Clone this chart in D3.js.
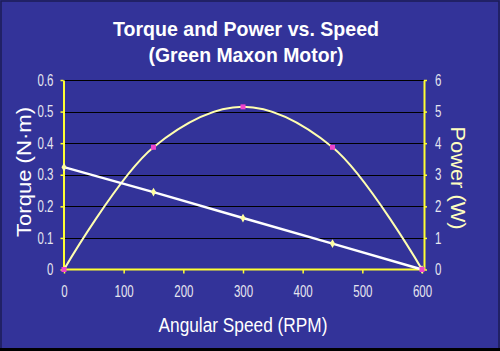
<!DOCTYPE html>
<html><head><meta charset="utf-8">
<script src="https://cdn.jsdelivr.net/npm/d3@7"></script>
<style>
html,body{margin:0;padding:0;background:#333399;}
svg{display:block;}
</style></head>
<body>
<script>
const speeds = [0, 150, 300, 450, 600];
const torque = [0.324, 0.245, 0.163, 0.082, 0];
const power = [0, 3.87, 5.15, 3.87, 0];
const xTicks = [0, 100, 200, 300, 400, 500, 600];
const torqueTicks = [0, 0.1, 0.2, 0.3, 0.4, 0.5, 0.6];
const powerTicks = [0, 1, 2, 3, 4, 5, 6];
const title1 = "Torque and Power vs. Speed";
const title2 = "(Green Maxon Motor)";

const W = 500, H = 351;
const L = 64, R = 422, T = 80, B = 269.5;
const svg = d3.select("body").append("svg").attr("width", W).attr("height", H);
svg.append("rect").attr("width", W).attr("height", H).attr("fill", "#333399");
svg.append("rect").attr("x", 1).attr("y", 1).attr("width", W - 2).attr("height", H - 3)
  .attr("fill", "none").attr("stroke", "#1c1c55").attr("stroke-width", 1.5);
svg.append("line").attr("x1", 0).attr("x2", W).attr("y1", H - 1.5).attr("y2", H - 1.5)
  .attr("stroke", "#000").attr("stroke-width", 3);

const x = d3.scaleLinear().domain([0, 600]).range([L, R]);
const yT = d3.scaleLinear().domain([0, 0.6]).range([B, T]);
const yP = d3.scaleLinear().domain([0, 6]).range([B, T]);

const sans = "'Liberation Sans', Arial, sans-serif";
const SX = 0.72;

svg.append("g").selectAll("line").data(torqueTicks.filter(d => d > 0)).join("line")
  .attr("x1", L).attr("x2", R + 2).attr("y1", d => Math.round(yT(d)) + 0.5).attr("y2", d => Math.round(yT(d)) + 0.5)
  .attr("stroke", "#000").attr("stroke-width", 1.2);

function styleAxis(g) {
  g.select(".domain").attr("stroke", "#ffff33").attr("stroke-width", 2);
  g.selectAll(".tick line").attr("stroke", "#ffff33").attr("stroke-width", 1.5);
  g.selectAll(".tick text").attr("fill", "#e6e6f0").attr("font-family", sans).attr("font-size", 16)
    .each(function () {
      const t = d3.select(this);
      const xv = +t.attr("x") || 0;
      t.attr("x", xv / SX).attr("transform", `scale(${SX},1)`);
    });
}

const gl = svg.append("g").attr("transform", `translate(${L - 0.5},0)`)
  .call(d3.axisLeft(yT).tickValues(torqueTicks).tickSize(3).tickSizeOuter(0).tickPadding(7)
    .tickFormat(d => d === 0 ? "0" : d3.format(".1f")(d)));
styleAxis(gl);
const gr = svg.append("g").attr("transform", `translate(${R + 2},0)`)
  .call(d3.axisRight(yP).tickValues(powerTicks).tickSize(3).tickSizeOuter(0).tickPadding(8)
    .tickFormat(d3.format("d")));
styleAxis(gr);
const gb = svg.append("g").attr("transform", `translate(0,${B})`)
  .call(d3.axisBottom(x).tickValues(xTicks).tickSize(4).tickSizeOuter(0).tickPadding(12)
    .tickFormat(d3.format("d")));
styleAxis(gb);
gb.select(".domain").attr("d", `M${L - 1.5},0H${R + 3}`);

const torqueData = speeds.map((s, i) => [s, torque[i]]);
const powerData = speeds.map((s, i) => [s, power[i]]);
svg.append("path").datum(powerData)
  .attr("d", d3.line().x(d => x(d[0])).y(d => yP(d[1])).curve(d3.curveCatmullRom.alpha(0.5)))
  .attr("fill", "none").attr("stroke", "#ffffb0").attr("stroke-width", 2);
svg.append("path").datum(torqueData)
  .attr("d", d3.line().x(d => x(d[0])).y(d => yT(d[1])))
  .attr("fill", "none").attr("stroke", "#ffffff").attr("stroke-width", 2.5);

svg.append("g").selectAll("path").data(torqueData).join("path")
  .attr("transform", d => `translate(${x(d[0])},${yT(d[1])})`)
  .attr("d", d3.symbol(d3.symbolDiamond, 22)())
  .attr("fill", "#ffffa0");
svg.append("g").selectAll("rect").data(powerData).join("rect")
  .attr("x", d => x(d[0]) - 2.5).attr("y", d => yP(d[1]) - 2.5).attr("width", 5).attr("height", 5)
  .attr("fill", "#ee44cc");

function label(txt, len, opts) {
  const t = svg.append("text").attr("text-anchor", "middle")
    .attr("font-family", sans).attr("font-size", opts.size)
    .attr("font-weight", opts.bold ? "bold" : "normal")
    .attr("fill", opts.fill || "#ffffff")
    .attr("textLength", len).attr("lengthAdjust", "spacingAndGlyphs")
    .text(txt);
  if (opts.transform) t.attr("transform", opts.transform);
  else t.attr("x", opts.x).attr("y", opts.y);
  return t;
}
label(title1, 266, { x: 246, y: 36, size: 21, bold: true });
label(title2, 195, { x: 246, y: 62, size: 21, bold: true });
label("Angular Speed (RPM)", 169, { x: 243, y: 332, size: 20 });
label("Torque (N·m)", 130, { transform: "translate(31,172) rotate(-90)", size: 20 });
label("Power (W)", 103, { transform: "translate(451,178) rotate(90)", size: 20, fill: "#ffffc0" });
</script>
</body></html>
